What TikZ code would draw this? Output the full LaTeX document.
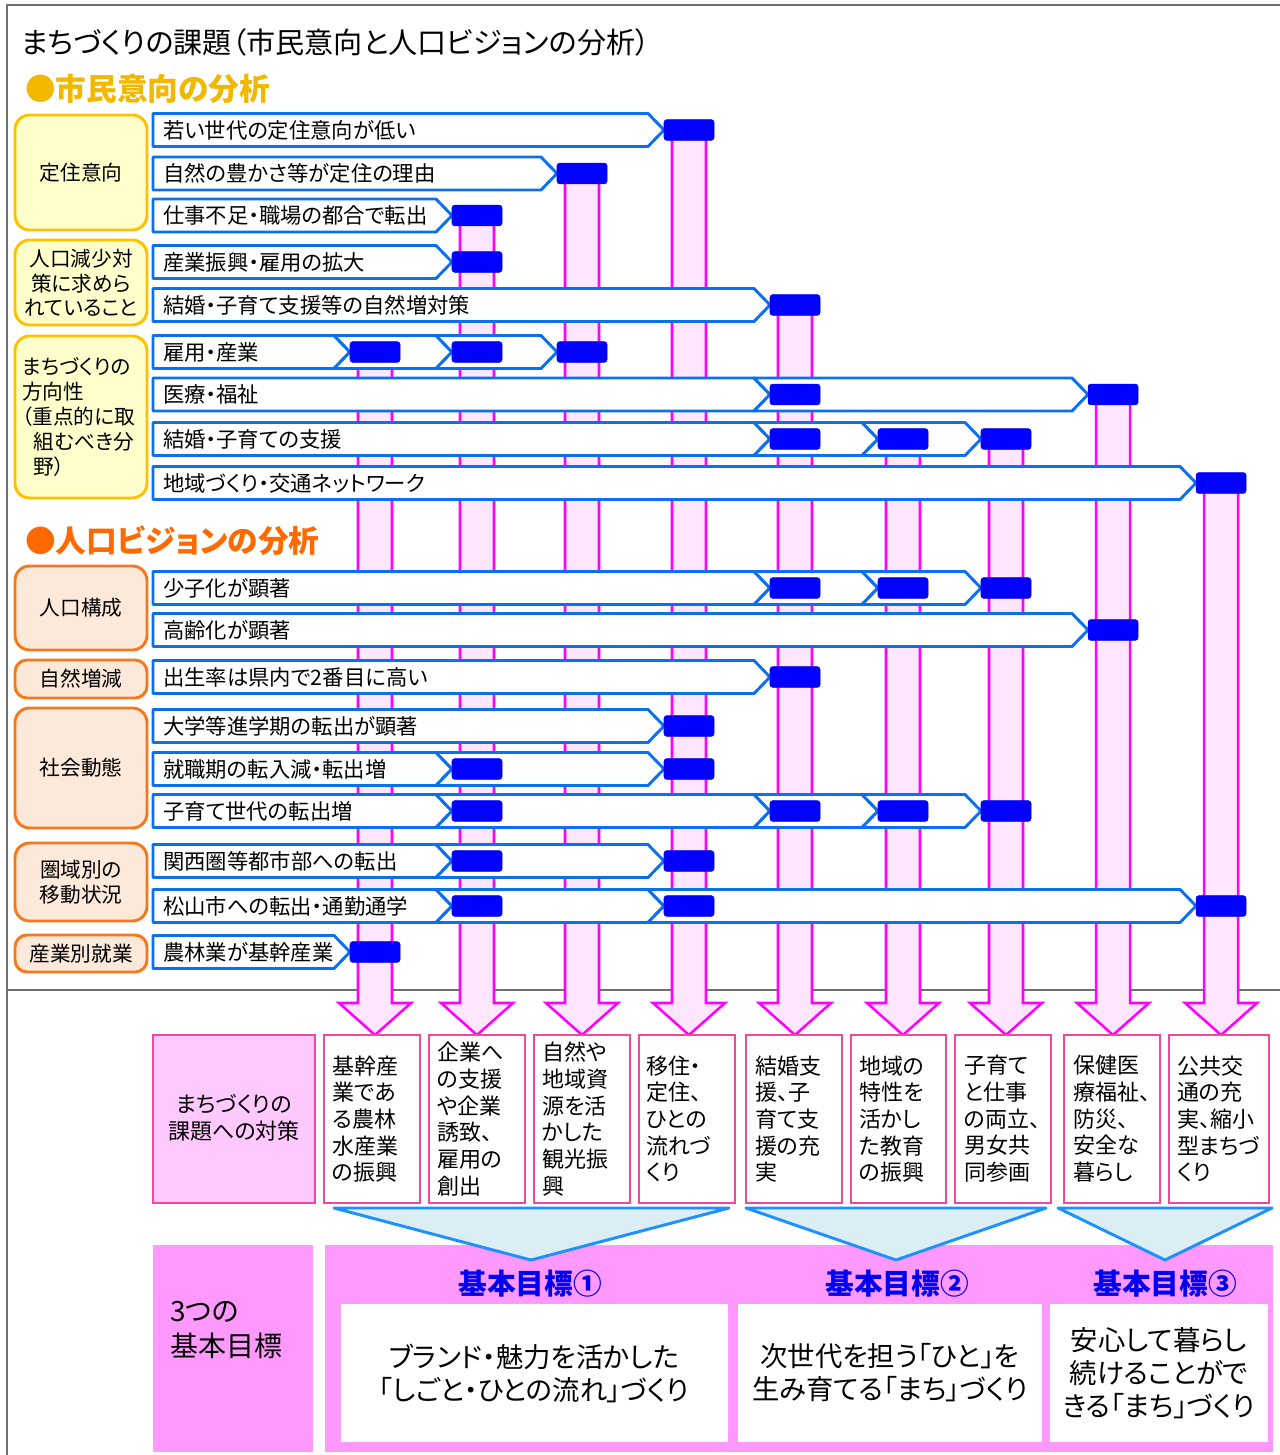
\documentclass[tikz,border=0pt]{standalone}
\usepackage{fontspec}
\setmainfont{Noto Sans CJK JP}[RawFeature=+palt]
\usetikzlibrary{calc}
\definecolor{frameg}{HTML}{707070}
\definecolor{rowblue}{HTML}{0A70EE}
\definecolor{blk}{HTML}{0000FF}
\definecolor{shaftfill}{HTML}{FFE6FF}
\definecolor{shaftline}{HTML}{FF00FF}
\definecolor{yfill}{HTML}{FFFFCC}
\definecolor{yline}{HTML}{FFC000}
\definecolor{ofill}{HTML}{FDE9D9}
\definecolor{oline}{HTML}{F5781E}
\definecolor{hgold}{HTML}{F2B800}
\definecolor{horange}{HTML}{FF6A00}
\definecolor{pinkline}{HTML}{F2489A}
\definecolor{pinkfill}{HTML}{FFC8FF}
\definecolor{goalfill}{HTML}{FF99FF}
\definecolor{trifill}{HTML}{DAEEF3}
\definecolor{triline}{HTML}{1E90FF}
\definecolor{goalblue}{HTML}{0000F0}
\tikzset{
  seg/.style={draw=rowblue, line width=2.2pt, fill=white, line join=round},
  blockbox/.style={fill=blk, draw=blk, line width=0.4pt, rounded corners=2pt,
    minimum width=37.5pt, minimum height=15.5pt, inner sep=0pt},
  shaft/.style={draw=shaftline, fill=shaftfill, line width=1.9pt, line join=miter},
  catY/.style={draw=yline, fill=yfill, line width=2.2pt, rounded corners=11pt},
  catO/.style={draw=oline, fill=ofill, line width=2.2pt, rounded corners=11pt},
  rowtext/.style={anchor=west, inner sep=0pt, font=\fontsize{16}{18}\selectfont},
  cattext/.style={align=center, inner sep=0pt, font=\fontsize{15.5}{18.5}\selectfont},
  measbox/.style={draw=pinkline, fill=white, line width=2.2pt},
  meastext/.style={anchor=west, align=left, inner sep=0pt, font=\fontsize{16.5}{20}\selectfont},
  tri/.style={draw=triline, fill=trifill, line width=2.2pt, line join=round},
  goaltitle/.style={inner sep=0pt, text=goalblue, font=\bfseries\fontsize{21.5}{26}\selectfont},
  goaltext/.style={align=center, inner sep=0pt, font=\fontsize{20.5}{24.75}\selectfont},
  heading/.style={anchor=west, inner sep=0pt, font=\bfseries\fontsize{23}{27}\selectfont},
}
\newcommand\chainrow[4]{%
  \foreach \b [remember=\b as \pb (initially 0), count=\i] in {#4} {
    \ifnum\i=1
      \draw[seg] (153,#2-16.5) -- (\b-16,#2-16.5) -- (\b,#2) -- (\b-16,#2+16.5) -- (153,#2+16.5) -- cycle;
    \else
      \draw[seg] (\pb-16,#2-16.5) -- (\b-16,#2-16.5) -- (\b,#2) -- (\b-16,#2+16.5) -- (\pb-16,#2+16.5) -- (\pb,#2) -- cycle;
    \fi
  }
  \foreach \b [count=\i] in {#4} {
    \node[blockbox] (#1-\i) at (\b+25,#2) {};
  }
  \node[rowtext] (#1-t) at (163,#2) {#3};
}
\newcommand\shaftcol[2]{%
  \draw[shaft] (#1-17,#2) -- (#1-17,1003) -- (#1-36,1003) -- (#1,1035) -- (#1+36,1003) -- (#1+17,1003) -- (#1+17,#2) -- cycle;
}
\begin{document}
\begin{tikzpicture}[x=0.75pt,y=-0.75pt]
\useasboundingbox (0,0) rectangle (1280,1455);
% frame
\draw[frameg, line width=1.5pt] (7,1455) -- (7,5) -- (1280,5);
\draw[frameg, line width=1.2pt] (7,990) -- (1280,990);
% title and headings
\node[anchor=west, inner sep=0pt, font=\fontsize{21.8}{26}\selectfont] (title) at (21,42) {まちづくりの課題（市民意向と人口ビジョンの分析）};
\node[heading, text=hgold] (h1) at (25,89) {●市民意向の分析};
\node[heading, text=horange] (h2) at (25,541) {●人口ビジョンの分析};
% shafts
\shaftcol{375}{352}
\shaftcol{477}{215.5}
\shaftcol{582}{173.5}
\shaftcol{689}{130}
\shaftcol{795}{305}
\shaftcol{903}{439}
\shaftcol{1006}{439}
\shaftcol{1113}{394.5}
\shaftcol{1221}{483}
% rows
\chainrow{rA}{130}{若い世代の定住意向が低い}{664}
\chainrow{rB}{173.5}{自然の豊かさ等が定住の理由}{557}
\chainrow{rC}{215.5}{仕事不足・職場の都合で転出}{452}
\chainrow{rD}{262}{産業振興・雇用の拡大}{452}
\chainrow{rE}{305}{結婚・子育て支援等の自然増対策}{770}
\chainrow{rF}{352}{雇用・産業}{350,452,557}
\chainrow{rG}{394.5}{医療・福祉}{770,1088}
\chainrow{rH}{439}{結婚・子育ての支援}{770,878,981}
\chainrow{rI}{483}{地域づくり・交通ネットワーク}{1196}
\chainrow{rJ}{588}{少子化が顕著}{770,878,981}
\chainrow{rK}{630}{高齢化が顕著}{1088}
\chainrow{rL}{677}{出生率は県内で2番目に高い}{770}
\chainrow{rM}{726}{大学等進学期の転出が顕著}{664}
\chainrow{rN}{769}{就職期の転入減・転出増}{452,664}
\chainrow{rO}{811}{子育て世代の転出増}{452,770,878,981}
\chainrow{rP}{861}{関西圏等都市部への転出}{452,664}
\chainrow{rQ}{906}{松山市への転出・通勤通学}{452,664,1196}
\chainrow{rR}{952}{農林業が基幹産業}{350}
% category boxes
\draw[catY] (15,115) rectangle (147,230);
\node[cattext] (k1) at (81,172.5) {定住意向};
\draw[catY] (15,240) rectangle (147,325);
\node[cattext, font=\fontsize{15.5}{18.4}\selectfont] (k2) at (81,283) {人口減少対\\策に求めら\\れていること};
\draw[catY] (15,336) rectangle (147,498);
\node[anchor=west, align=left, inner sep=0pt, font=\fontsize{15.5}{18.75}\selectfont] (k3) at (22,417) {まちづくりの\\方向性\\（重点的に取\\\hspace*{0.55em}組むべき分\\\hspace*{0.55em}野）};
\draw[catO] (15,566) rectangle (147,650);
\node[cattext] (k4) at (81,608) {人口構成};
\draw[catO, rounded corners=9pt] (15,660) rectangle (147,698);
\node[cattext] (k5) at (81,679) {自然増減};
\draw[catO] (15,708) rectangle (147,828);
\node[cattext] (k6) at (81,768) {社会動態};
\draw[catO] (15,843) rectangle (147,921);
\node[cattext, font=\fontsize{15.5}{18.75}\selectfont] (k7) at (81,882) {圏域別の\\移動状況};
\draw[catO, rounded corners=9pt] (15,935) rectangle (147,972);
\node[cattext] (k8) at (81,953.5) {産業別就業};
% measure boxes
\draw[measbox, fill=pinkfill] (153,1035) rectangle (315,1203);
\node[align=center, inner sep=0pt, font=\fontsize{16.5}{20.25}\selectfont] (m0) at (234,1118) {まちづくりの\\課題への対策};
\draw[measbox] (324,1035) rectangle (420,1203);
\node[meastext] (m1) at (332,1119) {基幹産\\業であ\\る農林\\水産業\\の振興};
\draw[measbox] (429,1035) rectangle (525,1203);
\node[meastext] (m2) at (437,1119) {企業へ\\の支援\\や企業\\誘致、\\雇用の\\創出};
\draw[measbox] (534,1035) rectangle (630,1203);
\node[meastext] (m3) at (542,1119) {自然や\\地域資\\源を活\\かした\\観光振\\興};
\draw[measbox] (639,1035) rectangle (735,1203);
\node[meastext] (m4) at (646,1119) {移住・\\定住、\\ひとの\\流れづ\\くり};
\draw[measbox] (746,1035) rectangle (842,1203);
\node[meastext] (m5) at (755,1119) {結婚支\\援、子\\育て支\\援の充\\実};
\draw[measbox] (851,1035) rectangle (946,1203);
\node[meastext] (m6) at (859,1119) {地域の\\特性を\\活かし\\た教育\\の振興};
\draw[measbox] (955,1035) rectangle (1051,1203);
\node[meastext] (m7) at (964,1119) {子育て\\と仕事\\の両立、\\男女共\\同参画};
\draw[measbox] (1064,1035) rectangle (1160,1203);
\node[meastext] (m8) at (1073,1119) {保健医\\療福祉、\\防災、\\安全な\\暮らし};
\draw[measbox] (1169,1035) rectangle (1269,1203);
\node[meastext] (m9) at (1177,1119) {公共交\\通の充\\実、縮小\\型まちづ\\くり};
% goals
\fill[goalfill] (153,1245) rectangle (313,1452);
\node[anchor=west, align=left, inner sep=0pt, font=\fontsize{21}{26}\selectfont] (g0) at (170,1330) {3つの\\基本目標};
\fill[goalfill] (325,1245) rectangle (1273,1452);
\fill[white] (341,1304) rectangle (728,1442);
\fill[white] (738,1304) rectangle (1042,1442);
\fill[white] (1050,1304) rectangle (1268,1442);
\draw[tri] (334,1208) -- (729,1208) -- (531,1260) -- cycle;
\draw[tri] (746,1208) -- (1046,1208) -- (896,1260) -- cycle;
\draw[tri] (1058,1208) -- (1272,1208) -- (1165,1260) -- cycle;
\node[goaltitle] (gt1) at (530,1284) {基本目標①};
\node[goaltitle] (gt2) at (897,1284) {基本目標②};
\node[goaltitle] (gt3) at (1165,1284) {基本目標③};
\node[goaltext] (gx1) at (534,1373) {ブランド・魅力を活かした\\「しごと・ひとの流れ」づくり};
\node[goaltext] (gx2) at (890,1373) {次世代を担う「ひと」を\\生み育てる「まち」づくり};
\node[goaltext] (gx3) at (1159,1373) {安心して暮らし\\続けることがで\\きる「まち」づくり};
\end{tikzpicture}
\end{document}
